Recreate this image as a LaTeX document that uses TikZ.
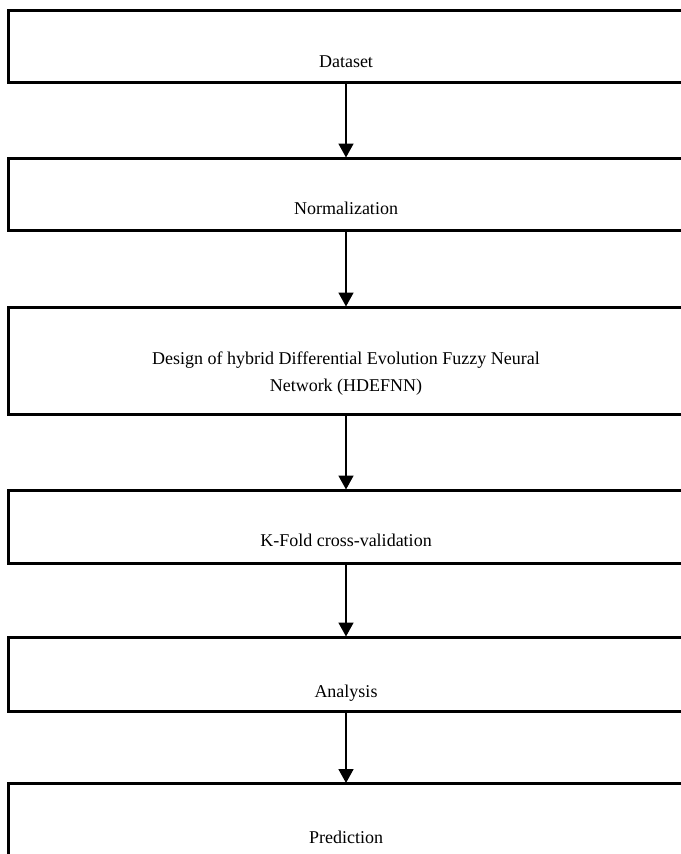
\documentclass[tikz,border=0pt]{standalone}
\usepackage{fontspec}
\setmainfont{Liberation Serif}
\usetikzlibrary{arrows.meta}
\begin{document}
\begin{tikzpicture}[x=1pt,y=-1pt,
  stagebox/.style={draw=black,line width=3pt,minimum width=676pt,inner sep=0pt,outer sep=0pt},
  lbl/.style={anchor=base,inner sep=0pt,font=\fontsize{18}{27}\selectfont,align=center},
  arr/.style={draw=black,line width=1.7pt,-{Triangle[width=15pt,length=14pt]},shorten >=0.5pt}]
\useasboundingbox (0,0) rectangle (680,854);
\node[stagebox,minimum height=72pt] (b1) at (346,46) {};
\node[stagebox,minimum height=72pt] (b2) at (346,194) {};
\node[stagebox,minimum height=107pt] (b3) at (346,360.5) {};
\node[stagebox,minimum height=73pt] (b4) at (346,526.5) {};
\node[stagebox,minimum height=74pt] (b5) at (346,674) {};
\node[stagebox,minimum height=73pt] (b6) at (346,820) {};
\node[lbl] (t1) at (346,67) {Dataset};
\node[lbl] (t2) at (346,214) {Normalization};
\node[lbl] (t3a) at (346,364) {Design of hybrid Differential Evolution Fuzzy Neural};
\node[lbl] (t3b) at (346,391) {Network (HDEFNN)};
\node[lbl] (t4) at (346,546) {K-Fold cross-validation};
\node[lbl] (t5) at (346,697) {Analysis};
\node[lbl] (t6) at (346,843) {Prediction};
\draw[arr] (b1.south) -- (b2.north);
\draw[arr] (b2.south) -- (b3.north);
\draw[arr] (b3.south) -- (b4.north);
\draw[arr] (b4.south) -- (b5.north);
\draw[arr] (b5.south) -- (b6.north);
\end{tikzpicture}
\end{document}
